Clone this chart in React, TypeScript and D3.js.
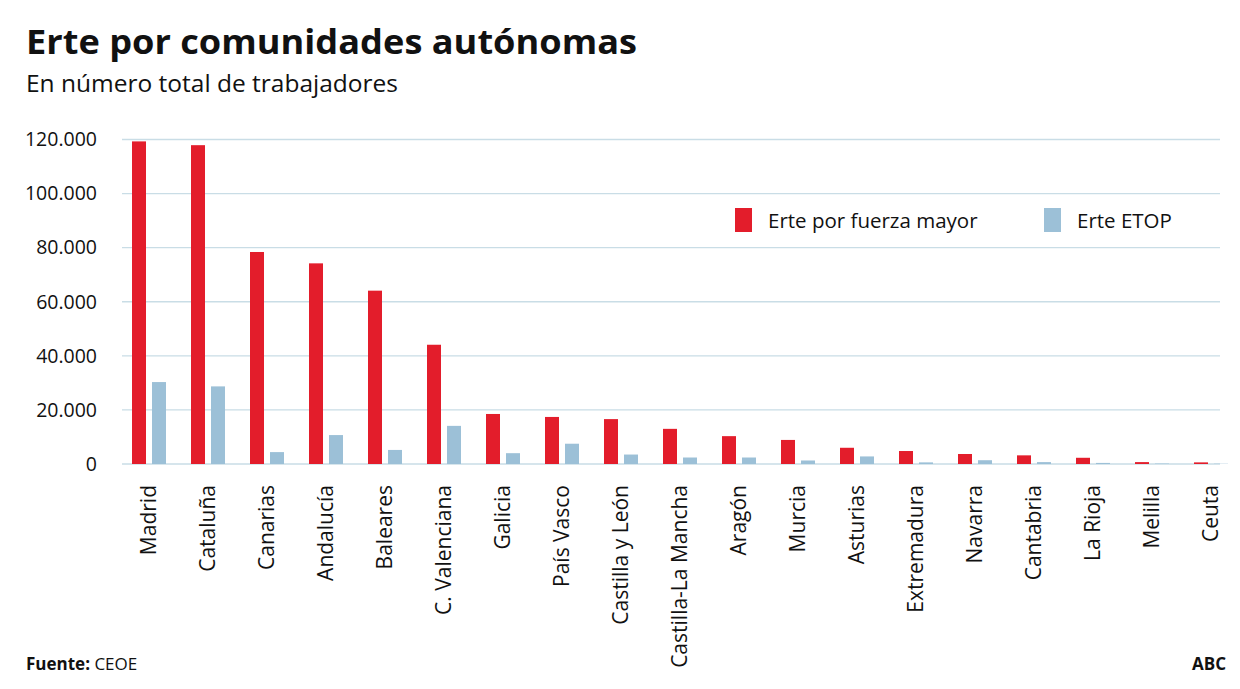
import * as d3 from "d3"

const regions = [
  "Madrid",
  "Cataluña",
  "Canarias",
  "Andalucía",
  "Baleares",
  "C. Valenciana",
  "Galicia",
  "País Vasco",
  "Castilla y León",
  "Castilla-La Mancha",
  "Aragón",
  "Murcia",
  "Asturias",
  "Extremadura",
  "Navarra",
  "Cantabria",
  "La Rioja",
  "Melilla",
  "Ceuta",
]

const fuerzaMayor = [
  119300, 117900, 78400, 74200, 64100, 44100, 18500, 17400, 16600, 13000, 10300, 8900, 6000, 4800,
  3700, 3200, 2300, 700, 600,
]

const etop = [
  30300, 28700, 4400, 10700, 5200, 14100, 4000, 7500, 3500, 2400, 2400, 1300, 2800, 600, 1400, 700,
  400, 150, 100,
]

const yTicks = [0, 20000, 40000, 60000, 80000, 100000, 120000]

const seriesKeys = ["fuerza", "etop"]
const seriesLabels = ["Erte por fuerza mayor", "Erte ETOP"]
const colors = ["#e31d2b", "#9cc0d7"]

const W = 1240
const H = 689
const font = "'Open Sans', 'Noto Sans', sans-serif"

export default function App() {
  const x = d3
    .scaleBand<string>()
    .domain(regions)
    .range([119.5, 119.5 + 59 * 19])
    .paddingInner(25 / 59)
    .paddingOuter(25 / 118)

  const xSub = d3.scaleBand<string>().domain(seriesKeys).range([0, x.bandwidth()]).paddingInner(0.3)

  const y = d3.scaleLinear().domain([0, 120000]).range([464, 139.5])

  const fmt = (v: number) => d3.format(",")(v).replace(/,/g, ".")

  const data = regions.map((r, i) => ({ region: r, values: [fuerzaMayor[i], etop[i]] }))

  return (
    <svg
      width={W}
      height={H}
      style={{ position: "absolute", left: 0, top: 0, background: "#fff" }}
      fontFamily={font}
    >
      <rect width={W} height={H} fill="#fff" />
      <text
        x={26}
        y={54}
        fontSize={34}
        fontWeight={700}
        fill="#111"
        textLength={611}
        lengthAdjust="spacingAndGlyphs"
      >
        Erte por comunidades autónomas
      </text>
      <text x={26} y={92} fontSize={24.5} fill="#111">
        En número total de trabajadores
      </text>

      {yTicks.map((t) => (
        <g key={t}>
          <line x1={122} x2={1220} y1={y(t)} y2={y(t)} stroke="#c9dde6" strokeWidth={1.3} />
          <text x={97} y={y(t)} dy="0.35em" textAnchor="end" fontSize={19.5} fill="#111">
            {fmt(t)}
          </text>
        </g>
      ))}

      {data.map((d) => (
        <g key={d.region} transform={`translate(${x(d.region)},0)`}>
          {d.values.map((v, j) => (
            <rect
              key={j}
              x={xSub(seriesKeys[j])}
              y={y(v)}
              width={xSub.bandwidth()}
              height={y(0) - y(v)}
              fill={colors[j]}
            />
          ))}
          <text
            transform={`translate(${x.bandwidth() / 2},485) rotate(-90)`}
            dy="0.35em"
            textAnchor="end"
            fontSize={21}
            fill="#111"
          >
            {d.region}
          </text>
        </g>
      ))}

      {seriesLabels.map((label, i) => {
        const lx = i === 0 ? 735 : 1044
        return (
          <g key={label} transform={`translate(${lx},208)`}>
            <rect width={17} height={24} fill={colors[i]} />
            <text x={33} y={20} fontSize={20.5} fill="#111">
              {label}
            </text>
          </g>
        )
      })}

      <text x={26} y={670} fontSize={17} fill="#111">
        <tspan fontWeight={700}>Fuente:</tspan> CEOE
      </text>
      <text x={1226} y={670} fontSize={17} fontWeight={700} textAnchor="end" fill="#111">
        ABC
      </text>
    </svg>
  )
}
